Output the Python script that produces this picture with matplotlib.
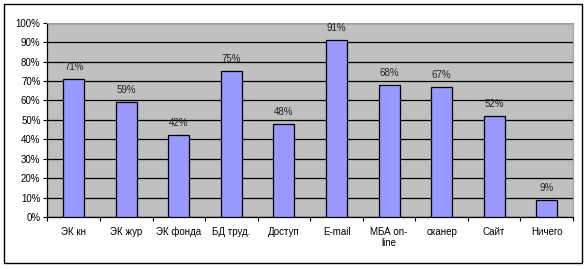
import matplotlib
matplotlib.use("Agg")
import matplotlib.pyplot as plt
from matplotlib.patches import Rectangle
from matplotlib.ticker import MultipleLocator, PercentFormatter

categories = ["ЭК кн", "ЭК жур", "ЭК фонда", "БД труд.", "Доступ",
              "E-mail", "МБА on-\nline", "сканер", "Сайт", "Ничего"]
values = [71, 59, 42, 75, 48, 91, 68, 67, 52, 9]

plt.rcParams['font.family'] = ['Liberation Sans', 'DejaVu Sans']
FS = 7.0

fig = plt.figure(figsize=(5.87, 2.69), dpi=100)
ax = fig.add_axes([47.5/587, 1-217/269, (573-47.5)/587, (217-22.7)/269])

# outer border
fig.patches.append(Rectangle((4/587, 1-262.5/269), (581.5-4)/587, (262.5-4)/269,
                             transform=fig.transFigure, fill=False,
                             edgecolor='black', linewidth=1.0))

ax.set_facecolor('#C0C0C0')
x = list(range(len(categories)))
ax.bar(x, values, width=0.4, color='#9999FF', edgecolor='black', linewidth=0.9, zorder=3)
for xi, v in zip(x, values):
    ax.annotate(f"{v}%", (xi, v), xytext=(0, 5), textcoords='offset points',
                ha='center', va='bottom', fontsize=FS, color='#222222')

ax.set_xlim(-0.5, len(categories) - 0.5)
ax.set_ylim(0, 100)
ax.yaxis.set_major_locator(MultipleLocator(10))
ax.yaxis.set_major_formatter(PercentFormatter(decimals=0))
ax.yaxis.grid(True, color='black', linewidth=0.9, zorder=1)
ax.set_axisbelow(True)

ax.set_xticks([i + 0.5 for i in range(-1, len(categories))])
ax.set_xticklabels([])
ax.set_xticks(x, minor=True)
ax.set_xticklabels(categories, minor=True, fontsize=FS)
ax.tick_params(axis='x', which='minor', length=0, pad=7)
ax.tick_params(axis='x', which='major', length=3, width=0.8, direction='out')
ax.tick_params(axis='y', length=3, width=0.8, direction='out', labelsize=FS, pad=2)

for s in ['top', 'right']:
    ax.spines[s].set_color('#A0A0A0')
    ax.spines[s].set_linewidth(0.8)
for s in ['left', 'bottom']:
    ax.spines[s].set_color('black')
    ax.spines[s].set_linewidth(0.9)

fig.savefig('out.png', dpi=100)
